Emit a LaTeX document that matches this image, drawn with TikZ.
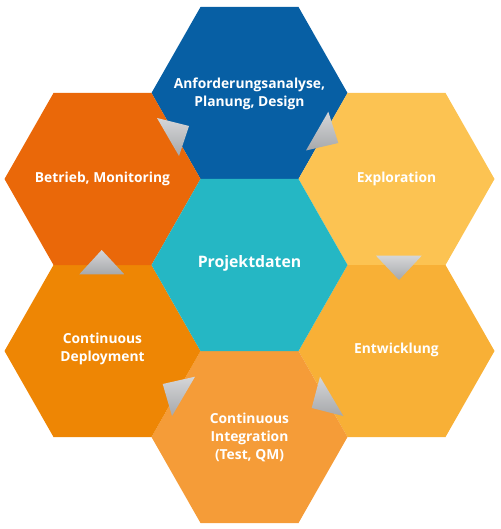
\documentclass[tikz,border=0pt]{standalone}
\usepackage{fontspec}
\setmainfont{Open Sans}
\definecolor{cblue}{HTML}{075FA4}
\definecolor{cur}{HTML}{FCC352}
\definecolor{clr}{HTML}{F8B036}
\definecolor{cbot}{HTML}{F59C38}
\definecolor{cll}{HTML}{EE8604}
\definecolor{cul}{HTML}{EA6809}
\definecolor{cteal}{HTML}{25B7C4}
\definecolor{alight}{HTML}{D5D6D8}
\definecolor{adark}{HTML}{A6A8AB}
\tikzset{
  lbl/.style={text=white, font=\bfseries\fontsize{13.8}{18}\selectfont, align=center},
  biglbl/.style={text=white, font=\bfseries\fontsize{15.8}{18}\selectfont, align=center},
  tri/.style={top color=alight, bottom color=adark}
}
\newcommand{\hexat}[3]{\fill[#1] (#2-98,#3) -- (#2-49,#3-86) -- (#2+49,#3-86) -- (#2+98,#3) -- (#2+49,#3+86) -- (#2-49,#3+86) -- cycle;}
\begin{document}
\begin{tikzpicture}[x=1pt,y=-1pt]
\useasboundingbox (0,0) rectangle (500,529);
\hexat{cblue}{249.5}{93}
\hexat{cur}{396.5}{179}
\hexat{clr}{396.5}{351}
\hexat{cbot}{249.5}{437}
\hexat{cll}{102.5}{351}
\hexat{cul}{102.5}{179}
\hexat{cteal}{249.5}{265}
\node[lbl] (ana) at (249.5,94) {Anforderungsanalyse,\\Planung, Design};
\node[lbl] (exp) at (396.5,179) {Exploration};
\node[lbl] (ent) at (396.5,350) {Entwicklung};
\node[lbl] (ci) at (249.5,437) {Continuous\\Integration\\(Test, QM)};
\node[lbl] (cd) at (102.5,348.5) {Continuous\\Deployment};
\node[lbl] (bet) at (102.5,179) {Betrieb, Monitoring};
\node[biglbl] (pd) at (249.5,263) {Projektdaten};
\shade[tri] (157,118) -- (189,126) -- (179,156) -- cycle;
\shade[tri] (306,150.5) -- (328.3,111.7) -- (338.3,143) -- cycle;
\shade[tri] (376,255.7) -- (421.7,255.7) -- (399,280) -- cycle;
\shade[tri] (320,376.7) -- (343.3,416) -- (311.7,408) -- cycle;
\shade[tri] (195,376.7) -- (172,416) -- (162.7,384) -- cycle;
\shade[tri] (101.7,250) -- (124.3,274.3) -- (79.3,274.3) -- cycle;
\end{tikzpicture}
\end{document}
